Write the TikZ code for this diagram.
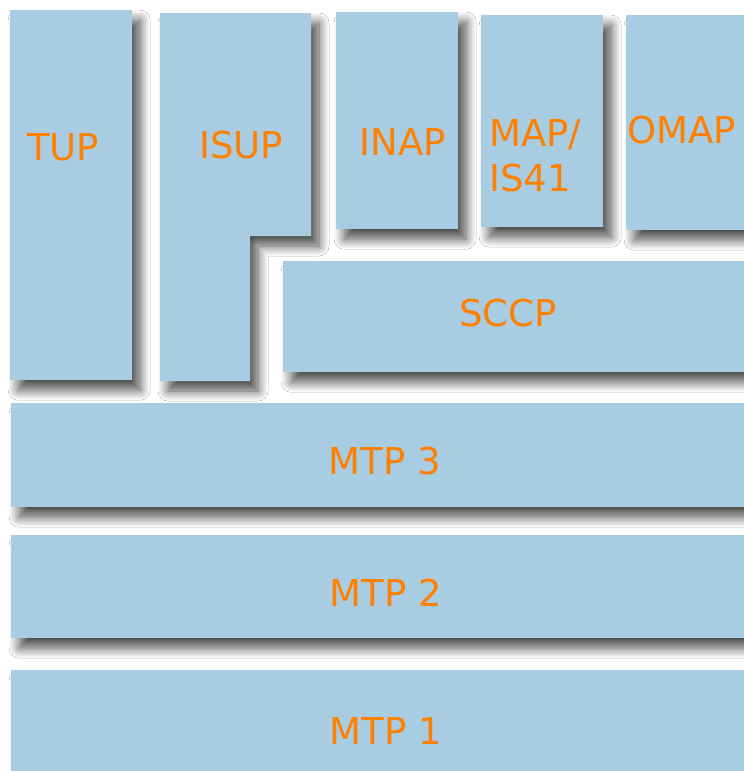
\documentclass[tikz,border=0pt]{standalone}
\usepackage{fontspec}
\setmainfont{DejaVu Sans}
\usetikzlibrary{shadows.blur}
\definecolor{boxblue}{HTML}{A8CCE2}
\definecolor{txtorange}{HTML}{FF8000}
\tikzset{
  softshadow/.style={blur shadow={shadow xshift=8pt, shadow yshift=-10pt, shadow blur radius=10pt, shadow blur steps=14, shadow opacity=70}},
  layer/.style={fill=boxblue, draw=none, inner sep=0pt, anchor=north west, softshadow},
  lbl/.style={text=txtorange, inner sep=0pt, font=\fontsize{37}{45}\selectfont}
}
\begin{document}
\begin{tikzpicture}[x=1pt,y=-1pt]
\useasboundingbox (0,0) rectangle (744,771);
\fill[white] (0,0) rectangle (744,771);
% lower layers first
\node[layer, minimum width=760pt, minimum height=110pt] (mtp1) at (11,670) {};
\node[layer, minimum width=760pt, minimum height=103pt] (mtp2) at (11,535) {};
\node[layer, minimum width=760pt, minimum height=104pt] (mtp3) at (11,403) {};
\node[layer, minimum width=480pt, minimum height=111pt] (sccp) at (283,261) {};
% top row
\node[layer, minimum width=122pt, minimum height=370pt] (tup) at (10,10) {};
\path[fill=boxblue, softshadow]
  (160,13) -- (311,13) -- (311,236) -- (250,236) -- (250,381) -- (160,381) -- cycle;
\node[layer, minimum width=122pt, minimum height=217pt] (inap) at (336,12) {};
\node[layer, minimum width=122pt, minimum height=212pt] (map) at (481,15) {};
\node[layer, minimum width=140pt, minimum height=215pt] (omap) at (626,15) {};
% labels
\node[lbl] (tuplbl) at (63,147) {TUP};
\node[lbl] (isuplbl) at (241,145) {ISUP};
\node[lbl] (inaplbl) at (403,142) {INAP};
\node[lbl, anchor=north west, align=left] (maplbl) at (489,119) {MAP/\\IS41};
\node[lbl, anchor=west] (omaplbl) at (627,130) {OMAP};
\node[lbl] (sccplbl) at (508,313) {SCCP};
\node[lbl] (mtp3lbl) at (385,461) {MTP 3};
\node[lbl] (mtp2lbl) at (386,593) {MTP 2};
\node[lbl] (mtp1lbl) at (386,731) {MTP 1};
\end{tikzpicture}
\end{document}
